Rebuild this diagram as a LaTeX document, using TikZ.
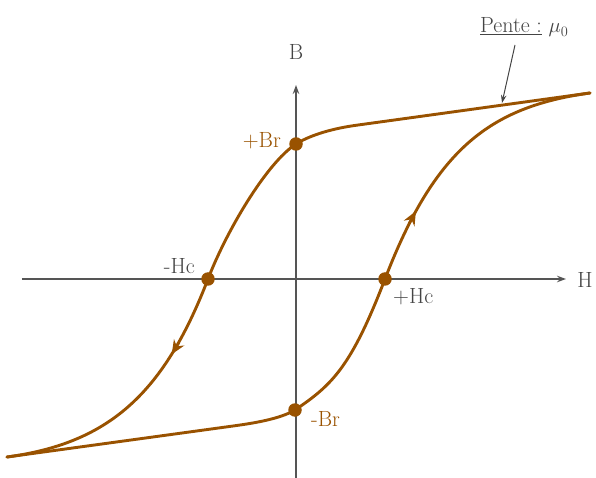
\documentclass[tikz,border=0pt]{standalone}
\usetikzlibrary{arrows.meta}
\definecolor{loop}{RGB}{153,82,0}
\definecolor{txt}{RGB}{68,68,68}
\definecolor{axisc}{RGB}{85,85,85}
\begin{document}
\begin{tikzpicture}[x=1pt,y=1pt,
  axisline/.style={draw=axisc, line width=1.3pt, -{Stealth[length=9pt,width=6.5pt]}},
  curve/.style={draw=loop, line width=2.9pt, line join=round, line cap=round},
  dot/.style={circle, fill=loop, inner sep=0pt, minimum size=13.5pt},
  lbl/.style={text=txt, font=\fontsize{22}{24}\selectfont, inner sep=0pt},
  blbl/.style={text=loop, font=\fontsize{22}{24}\selectfont, inner sep=0pt},
  tipline/.style={draw=loop, line width=2.4pt, -{Stealth[length=14pt,width=12pt]}},
  pointer/.style={draw=txt, line width=1pt, -{Stealth[length=8pt,width=5.5pt]}}]
\useasboundingbox (-296,-199) rectangle (300,279);
% axes
\coordinate (xl) at (-274,0);
\coordinate (xr) at (270,0);
\coordinate (yb) at (0,-199);
\coordinate (yt) at (0,194);
\draw[axisline] (xl) -- (xr);
\draw[axisline] (yb) -- (yt);
\node[lbl] (Hlab) at (289,-1) {H};
\node[lbl] (Blab) at (0,227) {B};
% key points
\coordinate (Tp) at (294,186);
\coordinate (Bt) at (-289,-178);
\coordinate (PBr) at (0,135);
\coordinate (MBr) at (-1,-131);
\coordinate (MHc) at (-88,0);
\coordinate (PHc) at (89,0);
% descending branch
\draw[curve] (Tp) -- (60,153.7)
  .. controls (32,149.8) and (12,142.5) .. (PBr)
  .. controls (-30,115.5) and (-70,46.8) .. (MHc)
  .. controls (-133,-117) and (-189,-164.4) .. (Bt);
% ascending branch
\draw[curve] (Bt) -- (-60,-146.6)
  .. controls (-30,-142.5) and (-12,-137.5) .. (MBr)
  .. controls (36,-106) and (55,-88.4) .. (PHc)
  .. controls (139,130) and (194,172.2) .. (Tp);
% direction arrows
\coordinate (d1) at (-116.9,-63.4);
\coordinate (d2) at (-124.3,-75.3);
\coordinate (u1) at (113.2,55.6);
\coordinate (u2) at (119.9,67.9);
\draw[tipline] (d1) -- (d2);
\draw[tipline] (u1) -- (u2);
% points
\node[dot] (pBr) at (PBr) {};
\node[dot] (mBr) at (MBr) {};
\node[dot] (mHc) at (MHc) {};
\node[dot] (pHc) at (PHc) {};
\node[blbl, anchor=east] (lpBr) at (-15,138) {+Br};
\node[blbl, anchor=west] (lmBr) at (15,-140) {-Br};
\node[lbl, anchor=east] (lmHc) at (-101,12.5) {-Hc};
\node[lbl, anchor=west] (lpHc) at (97,-18) {+Hc};
% slope label
\node[lbl, anchor=base west] (pente) at (184,246) {\underline{Pente :}\ $\mu_0$};
\coordinate (pstart) at (219,234);
\coordinate (pend) at (206,176);
\draw[pointer] (pstart) -- (pend);
\end{tikzpicture}
\end{document}
